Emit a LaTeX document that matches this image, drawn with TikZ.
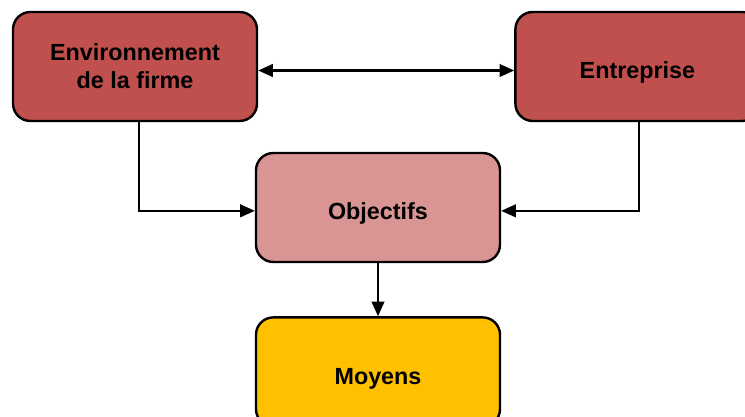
\documentclass[tikz,border=0pt]{standalone}
\usepackage{fontspec}
\setmainfont{Liberation Sans}
\usetikzlibrary{positioning,arrows.meta}

\definecolor{rouge}{HTML}{C0504D}
\definecolor{rose}{HTML}{D99594}
\definecolor{jaune}{HTML}{FFC000}

\tikzset{
  bloc/.style={draw=black, line width=1.8pt, rounded corners=13pt,
    minimum width=183pt, minimum height=81.75pt, align=center,
    font=\fontsize{17.5}{21}\selectfont\bfseries},
  uneligne/.style={text height=21pt, text depth=2.4pt},
  fleche/.style={line width=1.6pt, -{Triangle[length=11pt,width=9.5pt]}},
  dfleche/.style={line width=1.6pt, {Triangle[length=11pt,width=9.5pt]}-{Triangle[length=11pt,width=9.5pt]}}
}

\begin{document}
\begin{tikzpicture}[x=0.75pt,y=-0.75pt, node distance=192pt]
    \useasboundingbox (0,0) rectangle (745,417);
    \node[bloc, fill=rouge] (env) at (135,66.5) {Environnement\\de la firme};
    \node[bloc, uneligne, fill=rouge, right = of env] (ent) {Entreprise};
    \node[bloc, uneligne, fill=rose] (obj) at (378,207.5) {Objectifs};
    \node[bloc, uneligne, fill=jaune, below = 39.75pt of obj] (moy) {Moyens};
    %
    \draw[dfleche] ([yshift=-3pt]env.east) -- ([yshift=-3pt]ent.west);
    \draw[fleche] ([xshift=3pt]env.south) |- ([yshift=-2.5pt]obj.west);
    \draw[fleche] ([xshift=1.5pt]ent.south) |- ([yshift=-2.5pt]obj.east);
    \draw[fleche] (obj) -- (moy);
\end{tikzpicture}
\end{document}
